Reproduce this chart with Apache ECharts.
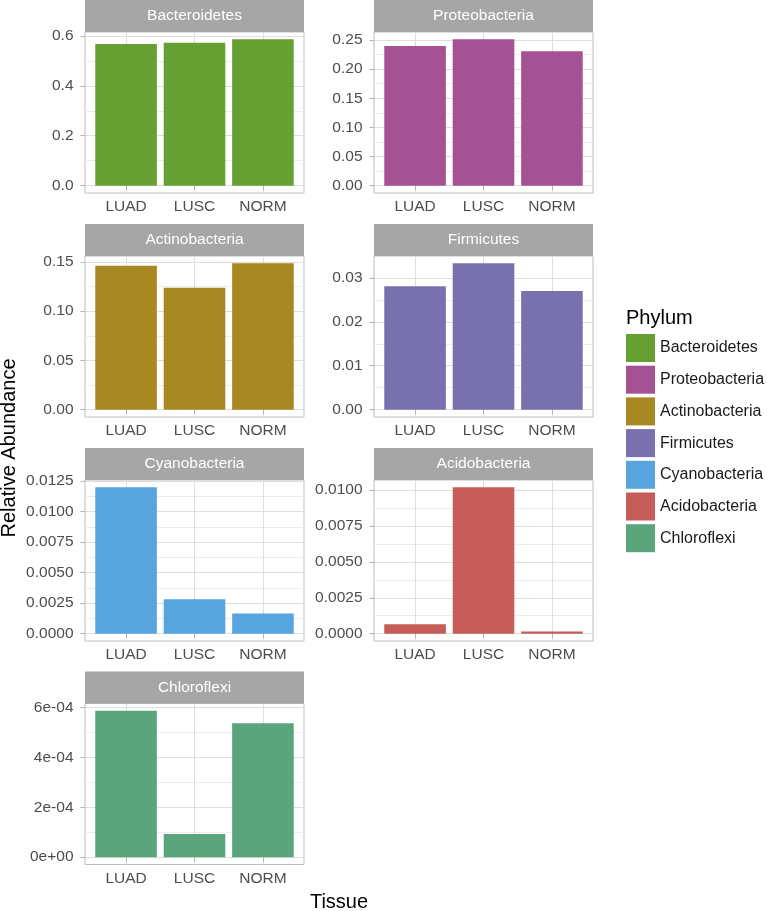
<!DOCTYPE html>
<html><head><meta charset="utf-8">
<script src="https://cdn.jsdelivr.net/npm/echarts@6/dist/echarts.min.js"></script>
<style>html,body{margin:0;padding:0;background:#fff}#c{width:767px;height:911px}</style>
</head><body><div id="c"></div>
<script>
// ---- data ----
const categories = ['LUAD', 'LUSC', 'NORM'];
const phyla = ['Bacteroidetes', 'Proteobacteria', 'Actinobacteria', 'Firmicutes', 'Cyanobacteria', 'Acidobacteria', 'Chloroflexi'];
const bacteroidetes = [0.567, 0.572, 0.586];
const proteobacteria = [0.2397, 0.2512, 0.2306];
const actinobacteria = [0.1460, 0.1238, 0.1485];
const firmicutes = [0.0281, 0.0333, 0.0270];
const cyanobacteria = [0.01198, 0.00281, 0.00166];
const acidobacteria = [0.00065, 0.01019, 0.00016];
const chloroflexi = [0.000586, 0.000093, 0.000536];
const phylumColors = ['#66A032', '#A55295', '#A88822', '#7970AE', '#58A4DF', '#C75D59', '#5BA57D'];

const yTickValues = [
  [0, 0.2, 0.4, 0.6],
  [0, 0.05, 0.10, 0.15, 0.20, 0.25],
  [0, 0.05, 0.10, 0.15],
  [0, 0.01, 0.02, 0.03],
  [0, 0.0025, 0.005, 0.0075, 0.01, 0.0125],
  [0, 0.0025, 0.005, 0.0075, 0.01],
  [0, 0.0002, 0.0004, 0.0006]
];
const yTickLabels = [
  ['0.0', '0.2', '0.4', '0.6'],
  ['0.00', '0.05', '0.10', '0.15', '0.20', '0.25'],
  ['0.00', '0.05', '0.10', '0.15'],
  ['0.00', '0.01', '0.02', '0.03'],
  ['0.0000', '0.0025', '0.0050', '0.0075', '0.0100', '0.0125'],
  ['0.0000', '0.0025', '0.0050', '0.0075', '0.0100'],
  ['0e+00', '2e-04', '4e-04', '6e-04']
];

// ---- layout / style ----
const seriesValues = [bacteroidetes, proteobacteria, actinobacteria, firmicutes, cyanobacteria, acidobacteria, chloroflexi];
const FONT = '"Liberation Sans", Arial, Helvetica, sans-serif';
const LEFTS = [85, 374];
const TOPS = [32, 256, 480, 703.5];
const PW = 219, PH = 161, STRIP = 32;
const AXIS_TEXT = '#4D4D4D';
const BORDER = '#BDBDBD';
const MAJOR = '#DEDEDE';
const MINOR = '#ECECEC';
const STRIP_FILL = '#A6A6A6';

const grids = [], xAxes = [], yAxes = [], series = [], graphics = [];

phyla.forEach((name, i) => {
  const col = i % 2, row = Math.floor(i / 2);
  const left = LEFTS[col], top = TOPS[row];
  grids.push({
    left: left, top: top, width: PW, height: PH,
    show: true, borderColor: BORDER, borderWidth: 1, backgroundColor: '#fff',
    containLabel: false, outerBoundsMode: 'none'
  });
  const catPos = categories.map((c, k) => k + 1);
  xAxes.push({
    type: 'value', gridIndex: i, min: 0.4, max: 3.6, z: 0,
    axisLine: { show: false },
    axisTick: { show: true, length: 4.5, lineStyle: { color: '#B3B3B3', width: 1 }, customValues: catPos },
    axisLabel: {
      show: true, customValues: catPos, margin: 6, color: AXIS_TEXT, fontSize: 15.5, fontFamily: FONT,
      formatter: v => categories[Math.round(v) - 1]
    },
    splitLine: { show: true, lineStyle: { color: MAJOR, width: 1 } }
  });
  const vals = seriesValues[i];
  const mx = Math.max.apply(null, vals);
  const ymin = -0.05 * mx, ymax = 1.05 * mx;
  const ticks = yTickValues[i];
  const labels = yTickLabels[i];
  const minors = [];
  for (let k = 0; k < ticks.length - 1; k++) minors.push((ticks[k] + ticks[k + 1]) / 2);
  // minor grid axis first (drawn underneath)
  yAxes.push({
    type: 'value', gridIndex: i, min: ymin, max: ymax, position: 'left', z: 0,
    axisLine: { show: false },
    axisTick: { show: true, length: 0, lineStyle: { color: 'rgba(0,0,0,0)', width: 0 }, customValues: minors },
    axisLabel: { show: false, customValues: minors },
    splitLine: { show: true, lineStyle: { color: MINOR, width: 1 } }
  });
  const yMain = yAxes.length;
  yAxes.push({
    type: 'value', gridIndex: i, min: ymin, max: ymax, position: 'left', z: 0,
    axisLine: { show: false },
    axisTick: { show: true, length: 4.5, lineStyle: { color: '#B3B3B3', width: 1 }, customValues: ticks },
    axisLabel: {
      show: true, customValues: ticks, margin: 11.5, color: AXIS_TEXT, fontSize: 15.5, fontFamily: FONT,
      formatter: v => {
        for (let k = 0; k < ticks.length; k++) if (Math.abs(ticks[k] - v) < 1e-12) return labels[k];
        return '';
      }
    },
    splitLine: { show: true, lineStyle: { color: MAJOR, width: 1 } }
  });
  series.push({
    type: 'bar', name: name, xAxisIndex: i, yAxisIndex: yMain, z: 5,
    barWidth: '90%', itemStyle: { color: phylumColors[i] },
    silent: true, animation: false,
    data: vals.map((v, k) => [k + 1, v])
  });
  // facet strip
  graphics.push({
    type: 'rect', silent: true, z: 10,
    shape: { x: left, y: top - STRIP, width: PW, height: STRIP },
    style: { fill: STRIP_FILL }
  });
  graphics.push({
    type: 'text', silent: true, z: 11, x: left + PW / 2, y: top - STRIP / 2,
    style: { text: name, fill: '#FFFFFF', font: '15.5px ' + FONT, textAlign: 'center', textVerticalAlign: 'middle', verticalAlign: 'middle' }
  });
});

graphics.push({
  type: 'text', silent: true, x: 9, y: 448, rotation: Math.PI / 2,
  style: { text: 'Relative Abundance', fill: '#000', font: '20px ' + FONT, textAlign: 'center', textVerticalAlign: 'middle', verticalAlign: 'middle' }
});
graphics.push({
  type: 'text', silent: true, x: 339, y: 902,
  style: { text: 'Tissue', fill: '#000', font: '20px ' + FONT, textAlign: 'center', textVerticalAlign: 'middle', verticalAlign: 'middle' }
});
graphics.push({
  type: 'text', silent: true, x: 626, y: 318,
  style: { text: 'Phylum', fill: '#000', font: '20px ' + FONT, textAlign: 'left', textVerticalAlign: 'middle', verticalAlign: 'middle' }
});

const chart = echarts.init(document.getElementById('c'), null, { renderer: 'canvas' });
chart.setOption({
  animation: false,
  backgroundColor: '#fff',
  grid: grids,
  xAxis: xAxes,
  yAxis: yAxes,
  series: series,
  legend: {
    show: true, orient: 'vertical', left: 626, top: 334, padding: 0,
    itemWidth: 29, itemHeight: 28, itemGap: 3.7, icon: 'rect', selectedMode: false,
    data: phyla,
    itemStyle: { borderWidth: 0 },
    textStyle: { fontSize: 16, color: '#1A1A1A', fontFamily: FONT }
  },
  graphic: graphics
});
</script>
</body></html>
